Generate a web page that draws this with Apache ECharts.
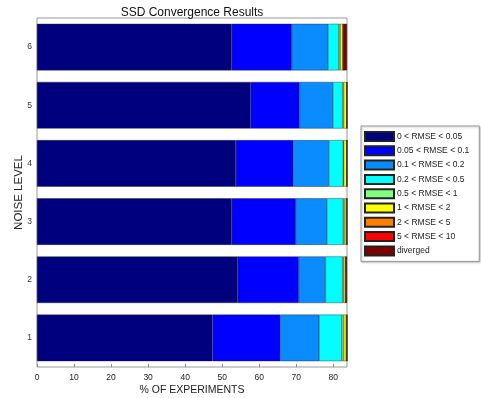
<!DOCTYPE html>
<html>
<head>
<meta charset="utf-8">
<script src="https://cdn.jsdelivr.net/npm/echarts@6/dist/echarts.min.js"></script>
<style>
html,body{margin:0;padding:0;background:#fff;}
#chart{width:481px;height:398px;}
</style>
</head>
<body>
<div id="chart"></div>
<script>
const noiseLevels = ['1','2','3','4','5','6'];
const seriesNames = ['0 < RMSE < 0.05','0.05 < RMSE < 0.1','0.1 < RMSE < 0.2','0.2 < RMSE < 0.5','0.5 < RMSE < 1','1 < RMSE < 2','2 < RMSE < 5','5 < RMSE < 10','diverged'];
const seriesColors = ['#00007f','#0000ff','#0a8cff','#00ffff','#80ff80','#ffff00','#ff7f00','#ff0000','#7f0000'];
// values per noise level 1..6
const rmse0_005   = [47.4, 54.2, 52.6, 53.7, 57.7, 52.6];
const rmse005_01  = [18.3, 16.5, 17.3, 15.5, 13.2, 16.2];
const rmse01_02   = [10.5,  7.2,  8.4,  9.6,  9.0,  9.8];
const rmse02_05   = [ 6.1,  4.6,  4.4,  3.9,  2.6,  2.9];
const rmse05_1    = [ 0.5,  0.3,  0.3,  0.1,  0.3,  0.4];
const rmse1_2     = [ 0.7,  0.5,  0.5,  0.8,  0.8,  0.7];
const rmse2_5     = [ 0.2,  0.1,  0.2,  0.1,  0.1,  0.1];
const rmse5_10    = [ 0.0,  0.0,  0.0,  0.0,  0.0,  0.0];
const diverged    = [ 0.0,  0.3,  0.0,  0.0,  0.0,  1.0];
const xTicks = [0,10,20,30,40,50,60,70,80];
const xMax = 83.7;

const allData = [rmse0_005, rmse005_01, rmse01_02, rmse02_05, rmse05_1, rmse1_2, rmse2_5, rmse5_10, diverged];
const font = 'Liberation Sans, Arial, sans-serif';

const chart = echarts.init(document.getElementById('chart'));
chart.setOption({
  animation: false,
  title: {
    text: 'SSD Convergence Results',
    left: 187, top: 2, textAlign: 'center',
    textStyle: {fontFamily: font, fontSize: 12, fontWeight: 'normal', color: '#111'}
  },
  grid: {left: 37, right: 134, top: 18, bottom: 31, show: true, borderColor: '#999', borderWidth: 1,
         containLabel: false, outerBoundsMode: 'none'},
  legend: {
    orient: 'vertical', left: 361, top: 126,
    padding: [5, 10, 5, 3],
    itemWidth: 29, itemHeight: 9, itemGap: 3.3,
    icon: 'rect',
    borderColor: '#999', borderWidth: 1,
    shadowColor: 'rgba(0,0,0,0.25)', shadowBlur: 2, shadowOffsetX: 1, shadowOffsetY: 1,
    backgroundColor: '#fff',
    textStyle: {fontFamily: font, fontSize: 8.5, lineHeight: 10, color: '#222', padding: [0,0,0,-2]},
    data: seriesNames
  },
  xAxis: {
    type: 'value', min: 0, max: xMax,
    name: '% OF EXPERIMENTS', nameLocation: 'middle', nameGap: 18, nameMoveOverlap: false,
    nameTextStyle: {fontFamily: font, fontSize: 10.5, color: '#222'},
    axisLine: {show: false},
    axisTick: {show: true, inside: true, length: 3, lineStyle: {color: '#888'}, customValues: xTicks},
    axisLabel: {fontFamily: font, fontSize: 8.5, color: '#222', margin: 6, customValues: xTicks},
    splitLine: {show: false}
  },
  yAxis: {
    type: 'category', data: noiseLevels,
    name: 'NOISE LEVEL', nameLocation: 'middle', nameGap: 12, nameRotate: 90, nameMoveOverlap: false,
    nameTextStyle: {fontFamily: font, fontSize: 11.5, color: '#222'},
    axisLine: {show: false},
    axisTick: {show: false},
    axisLabel: {fontFamily: font, fontSize: 8.5, color: '#333', margin: 5}
  },
  series: seriesNames.map((n, i) => ({
    name: n, type: 'bar', stack: 'total', barWidth: '80%',
    data: allData[i],
    itemStyle: {color: seriesColors[i], borderColor: '#222', borderWidth: 0.4}
  }))
});
</script>
</body>
</html>
